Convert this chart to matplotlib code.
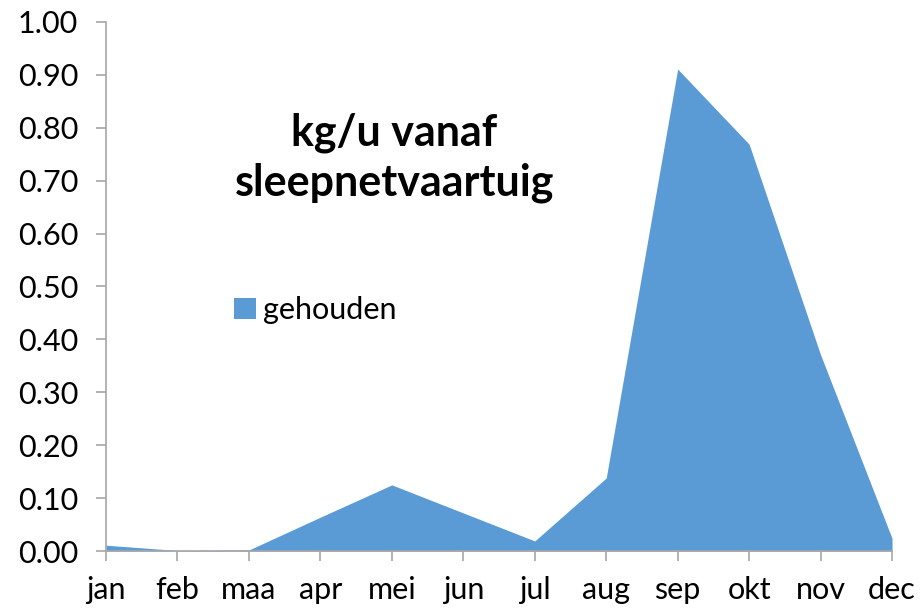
import matplotlib
matplotlib.use("Agg")
import matplotlib.pyplot as plt
import numpy as np

# maanden en waarden (kg/u)
maanden = ['jan', 'feb', 'maa', 'apr', 'mei', 'jun', 'jul', 'aug', 'sep', 'okt', 'nov', 'dec']
gehouden = [0.011, 0.001, 0.002, 0.064, 0.125, 0.072, 0.019, 0.138, 0.911, 0.769, 0.371, 0.024]

kleur = '#5B9BD5'
grijs = '#A6A6A6'

plt.rcParams['font.family'] = ['Lato', 'DejaVu Sans']

fig = plt.figure(figsize=(9.22, 6.10), dpi=100)
ax = fig.add_axes([0.115, 0.0967, 0.8525, 0.8673])

x = np.arange(len(maanden))
ax.fill_between(x, 0, gehouden, color=kleur, linewidth=0, label='gehouden')

ax.set_xlim(0, len(maanden) - 1)
ax.set_ylim(0, 1.0)
ax.set_yticks(np.arange(0, 1.01, 0.1))
ax.set_yticklabels(['%.2f' % v for v in np.arange(0, 1.01, 0.1)])
ax.set_xticks(x)
ax.set_xticklabels(maanden)

for s in ['top', 'right']:
    ax.spines[s].set_visible(False)
for s in ['left', 'bottom']:
    ax.spines[s].set_color(grijs)
    ax.spines[s].set_linewidth(1.2)

ax.tick_params(axis='both', colors=grijs, labelcolor='black', labelsize=22, length=7, width=1.2)
ax.tick_params(axis='y', pad=13)
ax.tick_params(axis='x', pad=11)

ax.text(0.367, 0.743, 'kg/u vanaf\nsleepnetvaartuig', transform=ax.transAxes,
        ha='center', va='center', fontsize=31, fontweight='bold', linespacing=1.3)

leg = ax.legend(loc='center left', bbox_to_anchor=(0.128, 0.455), frameon=False,
                fontsize=22, handlelength=0.7, handleheight=0.7, handletextpad=0.25)

fig.savefig('out.png', dpi=100)
